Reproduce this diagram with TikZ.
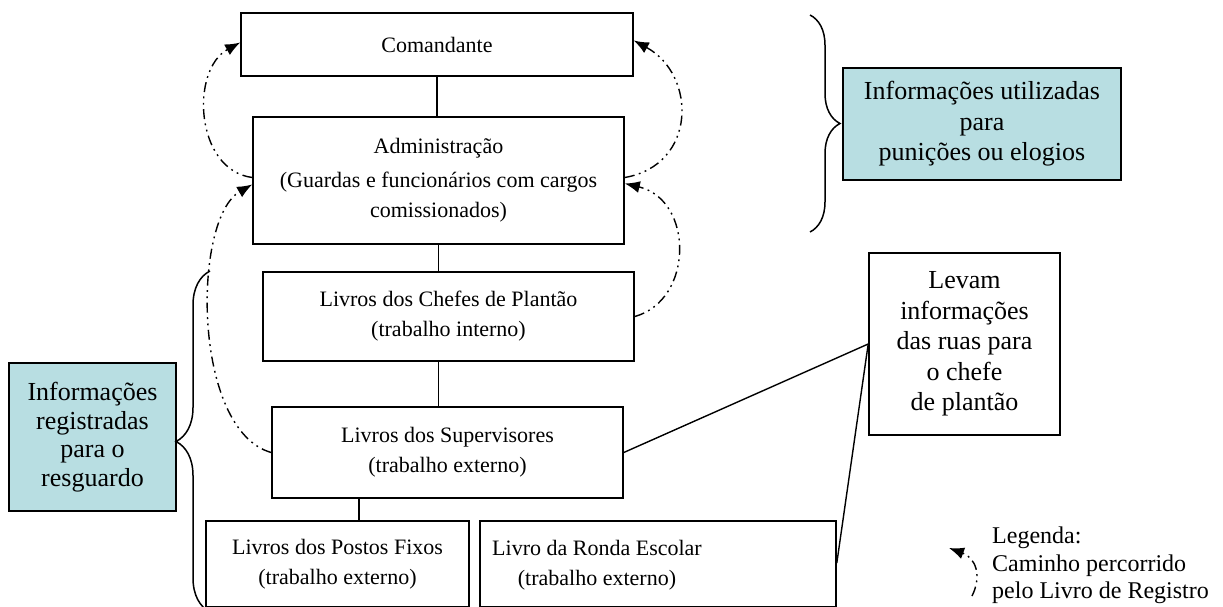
\documentclass[tikz,border=0pt]{standalone}
\usepackage{fontspec}
\setmainfont{Liberation Serif}
\usetikzlibrary{arrows.meta,decorations.pathreplacing}
\definecolor{infoblue}{RGB}{184,222,226}

\begin{document}
\begin{tikzpicture}[x=1pt, y=-1pt,
    every node/.style={font=\fontsize{22}{30}\selectfont, align=center, inner sep=0pt},
    grande/.style={font=\fontsize{26}{30.5}\selectfont},
    caixa/.style={draw, line width=1.6pt},
    info/.style={caixa, fill=infoblue, grande},
    ligacao/.style={line width=1.4pt},
    caminho/.style={line width=1.4pt, dash pattern=on 10pt off 4.5pt on 1.8pt off 4.5pt on 1.8pt off 4.5pt, -{Latex[length=15pt, width=12pt]}},
    chave/.style={line width=1.5pt, decorate, decoration={brace, amplitude=#1}}]
    \useasboundingbox (0,0) rectangle (1223,607);

    % hierarquia
    \node[caixa, minimum width=392, minimum height=63] (cmd) at (437,44.5) {Comandante};
    \node[caixa, minimum width=371, minimum height=127] (adm) at (438.5,180.5) {Administração\\[4pt](Guardas e funcionários com cargos\\comissionados)};
    \node[caixa, minimum width=371, minimum height=89] (chefes) at (448.5,316.5) {Livros dos Chefes de Plantão\\(trabalho interno)};
    \node[caixa, minimum width=351, minimum height=91] (superv) at (447.5,452.5) {Livros dos Supervisores\\(trabalho externo)};
    \node[caixa, minimum width=263, minimum height=86] (postos) at (337.5,564) {Livros dos Postos Fixos\\(trabalho externo)};
    \node[caixa, minimum width=356, minimum height=86, align=none] (ronda) at (658,564) {\begin{tabular}{@{}c@{}}Livro da Ronda Escolar\\(trabalho externo)\end{tabular}\kern122pt\mbox{}};
    \node[caixa, grande, minimum width=191, minimum height=182] (levam) at (964.5,344) {Levam\\informações\\das ruas para\\o chefe\\de plantão};

    % notas
    \node[info, minimum width=167, minimum height=148, font=\fontsize{26}{28.5}\selectfont] (resguardo) at (92.5,437) {Informações\\registradas\\para o\\resguardo};
    \node[info, minimum width=278, minimum height=112] (punicoes) at (982,124) {Informações utilizadas\\para\\punições ou elogios};
    \node[anchor=north west, align=left, font=\fontsize{24}{27.5}\selectfont] (legenda) at (992,527) {Legenda:\\Caminho percorrido\\pelo Livro de Registro};

    \draw[ligacao] (cmd.south) -- (cmd.south |- adm.north);
    \draw[ligacao] (adm.south) -- (adm.south |- chefes.north);
    \draw[ligacao] (adm.south |- chefes.south) -- (adm.south |- superv.north);
    \draw[ligacao] ([xshift=21.5pt]postos.north |- superv.south) -- ([xshift=21.5pt]postos.north);
    \draw[ligacao] (superv.east) -- (levam.west);
    \draw[ligacao] ([yshift=1pt]ronda.east) -- (levam.west);

    % caminho do livro
    \draw[caminho] ([yshift=3pt]adm.west) .. controls (195,170) and (190,70) .. ([yshift=2pt]cmd.west);
    \draw[caminho] ([yshift=3pt]adm.east) .. controls (697,165) and (697,75) .. ([yshift=4pt]cmd.east);
    \draw[caminho] (superv.west) .. controls (192,430) and (192,219) .. ([yshift=-4pt]adm.west);
    \draw[caminho] (chefes.east) .. controls (694,300) and (694,200) .. ([yshift=-3pt]adm.east);

    % chaves
    \coordinate (chA) at (210,612);
    \coordinate (chB) at (210,271);
    \coordinate (chC) at (810,15);
    \coordinate (chD) at (810,232);
    \draw[chave=34pt] (chA) -- (chB);
    \draw[chave=30pt] (chC) -- (chD);

    % legenda
    \coordinate (legA) at (972,596);
    \coordinate (legB) at (949,548);
    \draw[caminho] (legA) .. controls (982,576) and (976,558) .. (legB);
\end{tikzpicture}
\end{document}
